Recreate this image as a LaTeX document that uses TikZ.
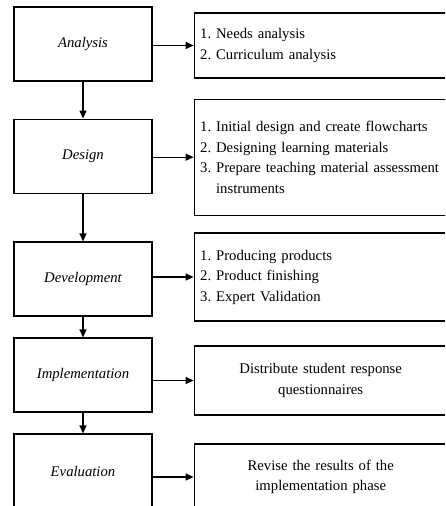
\documentclass[tikz,border=0pt]{standalone}
\usepackage{fontspec}
\setmainfont{Liberation Serif}
\frenchspacing
\usetikzlibrary{arrows.meta,positioning}

\begin{document}
\begin{tikzpicture}[x=1pt,y=-1pt,->,>={Triangle[length=8pt,width=7pt]},line width=1.2pt,
	phase/.style={draw,minimum width=138pt,minimum height=74pt,font=\fontsize{14.7pt}{20.5pt}\selectfont\itshape},
	task/.style={draw,minimum width=253pt,text width=246pt,inner sep=6pt,align=left,font=\fontsize{14.7pt}{20.5pt}\selectfont},
	taskc/.style={task,text width=241pt,align=center}]
	\useasboundingbox (0,0) rectangle (445,506);
	\clip (0,0) rectangle (445,506);
	\node[phase] (a) at (83,44) {Analysis};
	\node[phase] (b) [below = 37pt of a] {Design};
	\node[phase] (c) [below = 47.6pt of b] {Development};
	\node[phase] (d) [below = 20.8pt of c] {Implementation};
	\node[phase] (e) [below = 20.8pt of d] {Evaluation};
	\node[task,minimum height=65pt] (aa) [right = 41pt of a,yshift=-1.5pt] {1. Needs analysis\\2. Curriculum analysis};
	\node[task,minimum height=116pt] (bb) [right = 41pt of b,yshift=-1pt] {1. Initial design and create flowcharts\\2. Designing learning materials\\3. Prepare teaching material assessment\\\hphantom{3.} instruments};
	\node[task,minimum height=88pt] (cc) [right = 41pt of c,yshift=2pt] {1. Producing products\\2. Product finishing\\3. Expert Validation};
	\node[taskc,minimum height=69pt] (dd) [right = 41pt of d,yshift=-5.5pt] {Distribute student response\\questionnaires};
	\node[taskc,minimum height=66pt] (ee) [right = 41pt of e,yshift=-6pt] {Revise the results of the\\implementation phase};
	\path (a) edge (b);
	\path (b) edge (c);
	\path (c) edge (d);
	\path (d) edge (e);
	\path (a.east |- aa) edge (aa);
	\path (b.east |- bb) edge (bb);
	\path (c.east |- cc) edge (cc);
	\path (d.east |- dd) edge (dd);
	\path (e.east |- ee) edge (ee);
\end{tikzpicture}
\end{document}
